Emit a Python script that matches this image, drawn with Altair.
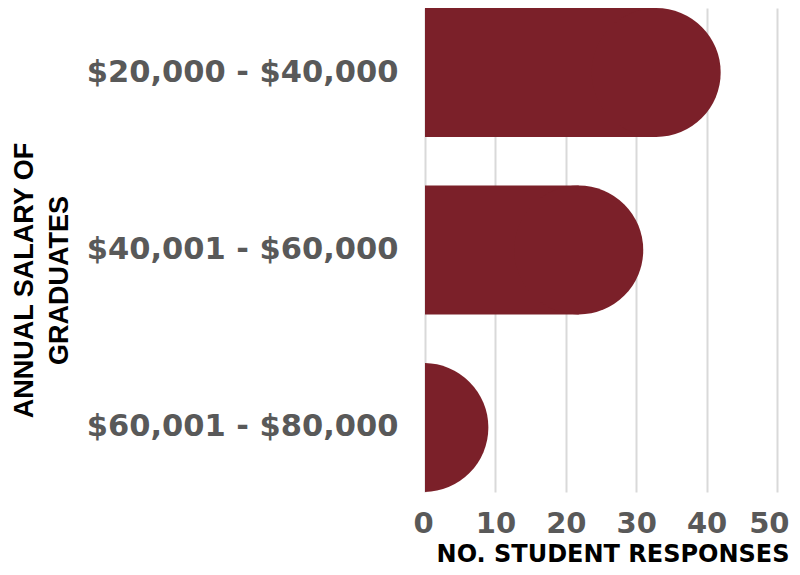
import altair as alt
import pandas as pd

categories = ["$20,000 - $40,000", "$40,001 - $60,000", "$60,001 - $80,000"]
responses = [42, 31, 9]
x_ticks = [0, 10, 20, 30, 40, 50]

# style constant: half of the bar thickness, expressed in x units (for round bar ends)
END_RADIUS_UNITS = 64.5 / (352 / 50)
BAR_DIAMETER_PX = 129

df = pd.DataFrame({"salary": categories, "responses": responses})

x_axis = alt.Axis(
    values=x_ticks,
    title="NO. STUDENT RESPONSES",
    grid=True, gridColor="#d9d9d9", gridWidth=2,
    domain=False, ticks=False, labelFlush=True, labelFlushOffset=12,
    labelFont="DejaVu Sans", labelFontSize=29, labelFontWeight="bold",
    labelColor="#595959", labelPadding=17,
    titleFont="DejaVu Sans", titleFontSize=24, titleFontWeight="bold",
    titleColor="#000000", titleX=364, titleY=69.5,
    titleAlign="right", titleBaseline="alphabetic",
)
y_axis = alt.Axis(
    title=["ANNUAL SALARY OF", "GRADUATES"],
    grid=False, domain=False, ticks=False, tickSize=0,
    labelPadding=27, labelLimit=500,
    labelFont="DejaVu Sans", labelFontSize=30.5, labelFontWeight="bold",
    labelColor="#595959",
    titleFont="Liberation Sans", titleFontSize=27, titleFontWeight="bold",
    titleColor="#000000", titleAngle=270, titleX=-387, titleY=272,
    titleAlign="center", titleBaseline="bottom", titleLineHeight=35,
)
x_scale = alt.Scale(domain=[0, 50], nice=False)
y_enc = alt.Y(
    "salary:N", sort=categories,
    scale=alt.Scale(paddingInner=0.273, paddingOuter=0),
    axis=y_axis,
)

base = alt.Chart(df).transform_calculate(
    center=f"datum.responses - {END_RADIUS_UNITS}",
    stem=f"max(datum.responses - {END_RADIUS_UNITS}, 0)",
    zero="0",
)

stem = base.mark_bar(color="#7B2029").encode(
    x=alt.X("zero:Q", scale=x_scale, axis=x_axis),
    x2="stem:Q",
    y=y_enc,
)
cap = base.mark_point(
    shape="circle", filled=True, opacity=1, color="#7B2029",
    size=BAR_DIAMETER_PX ** 2, clip=True, strokeWidth=0,
).encode(
    x=alt.X("center:Q", scale=x_scale),
    y=y_enc,
)

chart = alt.layer(stem, cap).properties(
    width=352,
    height=484,
    autosize=alt.AutoSizeParams(type="none"),
    padding={"left": 417, "top": 0, "right": 15, "bottom": 75},
).configure_view(stroke=None)

chart.save("out.html", embed_options={"renderer": "svg", "actions": False})
